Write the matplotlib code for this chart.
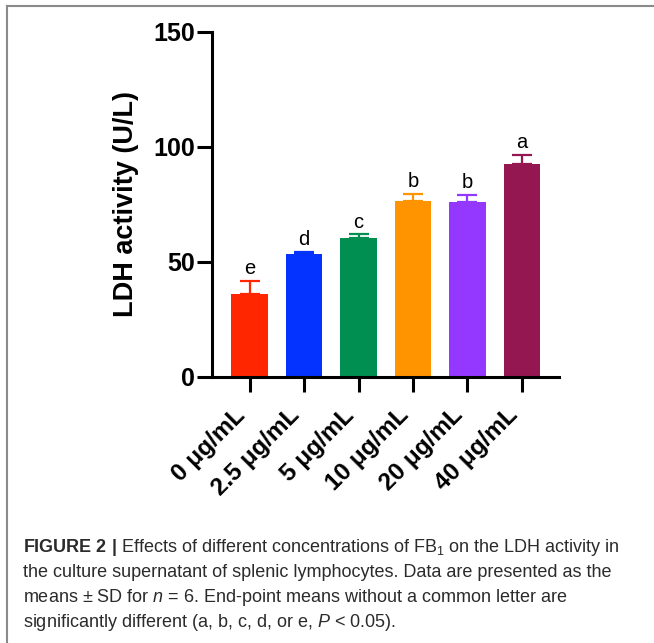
import matplotlib
matplotlib.use('Agg')
import matplotlib.pyplot as plt
from matplotlib.lines import Line2D
import numpy as np

plt.rcParams['font.family'] = ['Liberation Sans', 'DejaVu Sans']
plt.rcParams['mathtext.fontset'] = 'custom'
plt.rcParams['mathtext.rm'] = 'Liberation Sans'
plt.rcParams['mathtext.it'] = 'Liberation Sans:italic'
plt.rcParams['mathtext.bf'] = 'Liberation Sans:bold'

#================ data ====================
groups = ['0 μg/mL', '2.5 μg/mL', '5 μg/mL', '10 μg/mL', '20 μg/mL', '40 μg/mL']
means = [36.0, 53.2, 60.4, 76.4, 76.1, 92.3]
sds = [5.6, 1.1, 1.5, 3.2, 2.8, 4.1]
letters = ['e', 'd', 'c', 'b', 'b', 'a']
colors = ['#FF2600', '#0433FF', '#008F51', '#FF9300', '#9437FF', '#941751']
yticks = [0, 50, 100, 150]

caption = [
    r'$\mathbf{FIGURE\ 2\ |}$ Effects of different concentrations of FB$_1$ on the LDH activity in',
    'the culture supernatant of splenic lymphocytes. Data are presented as the',
    r'means $\pm$ SD for $n$ = 6. End-point means without a common letter are',
    r'significantly different (a, b, c, d, or e, $P$ < 0.05).',
]
#==========================================

fig = plt.figure(figsize=(6.54, 6.43), dpi=100)
ax = fig.add_axes([0.3242, 0.4142, 0.5305, 0.5365])

x = np.arange(len(groups))
ax.bar(x, means, width=0.67, color=colors, zorder=2)
for xi, m, s, c in zip(x, means, sds, colors):
    ax.errorbar(xi, m, yerr=[[0], [s]], fmt='none', ecolor=c, elinewidth=1.6,
                capsize=7, capthick=1.6, zorder=1)

# significance letters
for xi, m, s, l in zip(x, means, sds, letters):
    ax.annotate(l, (xi, m + s), xytext=(0, 2), textcoords='offset points',
                ha='center', va='bottom', fontsize=14.5)

ax.set_xlim(-0.69, 5.68)
ax.set_ylim(0, 150)
ax.set_yticks(yticks)
ax.set_xticks(x)
ax.set_xticklabels(groups, rotation=45, ha='right', fontsize=17.5, fontweight='bold')
for lab in ax.get_yticklabels():
    lab.set_fontweight('bold')
    lab.set_fontsize(18)

for side in ['top', 'right']:
    ax.spines[side].set_visible(False)
for side in ['left', 'bottom']:
    ax.spines[side].set_linewidth(2.2)
ax.tick_params(axis='both', width=2.2, length=10.5, direction='out')
ax.tick_params(axis='x', pad=9)
ax.tick_params(axis='y', pad=2)

ax.set_ylabel('LDH activity (U/L)', fontsize=19.5, fontweight='bold', labelpad=10)

# figure frame (top and left only)
fig.add_artist(Line2D([7 / 654, 7 / 654], [0, 1 - 6 / 643], color='#8a8a8a', lw=1.5))
fig.add_artist(Line2D([7 / 654, 653 / 654], [1 - 6 / 643, 1 - 6 / 643], color='#8a8a8a', lw=1.5))

# caption
for i, line in enumerate(caption):
    fig.text(22.7 / 654, 1 - (552 + 25 * i) / 643, line, ha='left', va='baseline',
             fontsize=13, color='#2b2b2b')

plt.savefig('out.png', dpi=100)
